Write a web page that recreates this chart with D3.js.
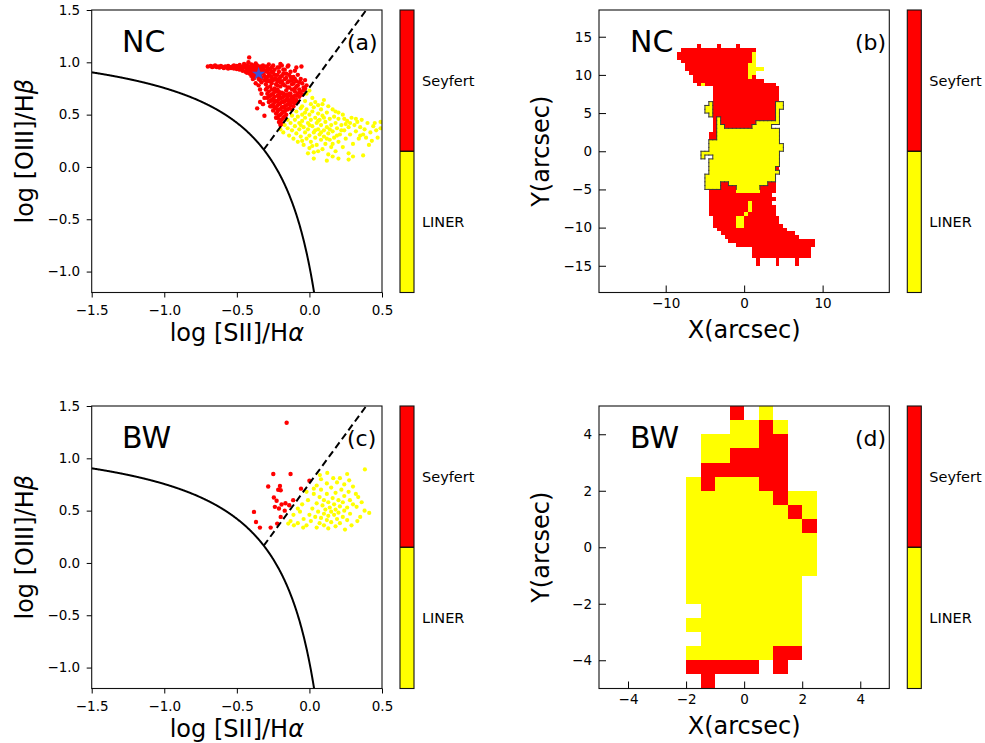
<!DOCTYPE html>
<html>
<head>
<meta charset="utf-8">
<script src="https://cdn.jsdelivr.net/npm/d3@7"></script>
<style>
  body { margin: 0; background: #fff; }
  svg { display: block; }
  text { font-family: "DejaVu Sans", sans-serif; fill: #000; }
</style>
</head>
<body>
<svg id="fig" width="985" height="743"></svg>
<script>
// ---------------- BPT diagnostic points: [log [SII]/Hα, log [OIII]/Hβ] ----------------
const ncSeyfert = [
  [-0.70,0.96],[-0.68,0.965],[-0.67,0.955],[-0.66,0.96],[-0.65,0.97],[-0.64,0.955],[-0.63,0.96],[-0.62,0.95],
  [-0.61,0.965],[-0.60,0.955],[-0.59,0.945],[-0.58,0.96],[-0.57,0.95],[-0.56,0.94],[-0.56,0.965],[-0.55,0.955],
  [-0.54,0.945],[-0.53,0.96],[-0.52,0.94],[-0.52,0.97],[-0.51,0.95],[-0.50,0.935],[-0.50,0.965],[-0.49,0.95],
  [-0.48,0.93],[-0.48,0.975],[-0.47,0.955],[-0.46,0.94],[-0.46,0.92],[-0.45,0.965],[-0.45,0.985],[-0.44,0.95],
  [-0.44,0.91],[-0.43,0.935],
  [-0.43,0.97],[-0.42,1.00],[-0.42,0.92],[-0.41,0.95],[-0.41,0.89],[-0.40,0.98],[-0.40,0.91],[-0.40,0.87],
  [-0.39,0.94],[-0.39,0.90],[-0.38,0.96],[-0.38,0.88],[-0.38,0.85],[-0.37,0.92],[-0.37,0.99],[-0.36,0.87],
  [-0.36,0.94],[-0.35,0.91],[-0.35,0.84],[-0.34,0.96],[-0.34,0.88],[-0.33,0.93],[-0.33,0.85],[-0.33,0.81],
  [-0.32,0.90],[-0.32,0.97],[-0.31,0.87],[-0.31,0.83],[-0.30,0.92],[-0.30,0.79],[-0.29,0.95],[-0.29,0.86],
  [-0.28,0.89],[-0.28,0.82],[-0.27,0.93],[-0.27,0.77],[-0.26,0.86],[-0.26,0.80],[-0.25,0.90],[-0.25,0.97],
  [-0.24,0.84],[-0.24,0.75],[-0.23,0.88],[-0.23,0.79],[-0.22,0.95],[-0.22,0.82],[-0.21,0.91],[-0.21,0.72],
  [-0.20,0.86],[-0.20,0.77],[-0.19,0.97],[-0.19,0.82],[-0.18,0.89],[-0.18,0.70],[-0.17,0.93],[-0.17,0.78],
  [-0.16,0.85],[-0.16,0.73],[-0.15,0.81],[-0.15,0.96],[-0.14,0.88],[-0.14,0.76],[-0.13,0.91],[-0.13,0.70],
  [-0.12,0.83],[-0.12,0.79],[-0.11,0.86],[-0.10,0.75],[-0.10,0.92],[-0.09,0.82],[-0.08,0.78],[-0.08,0.88],
  [-0.07,0.74],[-0.06,0.84],[-0.05,0.80],[-0.04,0.76],[-0.03,0.83],[-0.02,0.78],
  [-0.415,1.047],[-0.28,0.98],[-0.20,0.985],[-0.145,0.97],[-0.055,0.96],[-0.09,0.95],
  [-0.44,0.97],[-0.43,0.90],[-0.42,0.96],[-0.41,0.93],[-0.39,0.97],[-0.38,0.92],[-0.37,0.89],[-0.36,0.97],
  [-0.36,0.90],[-0.35,0.95],[-0.34,0.92],[-0.34,0.83],[-0.33,0.89],[-0.32,0.94],[-0.31,0.91],[-0.30,0.96],
  [-0.30,0.85],[-0.29,0.82],[-0.29,0.91],[-0.28,0.94],[-0.27,0.87],[-0.27,0.83],[-0.26,0.91],[-0.26,0.95],
  [-0.25,0.83],[-0.24,0.88],[-0.24,0.93],[-0.23,0.84],[-0.22,0.88],[-0.22,0.78],[-0.21,0.84],[-0.21,0.95],
  [-0.20,0.81],[-0.19,0.87],[-0.18,0.93],[-0.18,0.79],[-0.17,0.84],[-0.16,0.89],[-0.15,0.76],[-0.14,0.82],
  [-0.13,0.86],[-0.12,0.74],[-0.11,0.80],[-0.10,0.84],[-0.09,0.77],[-0.07,0.81],
  [-0.30,0.74],[-0.29,0.70],[-0.29,0.66],[-0.28,0.72],[-0.28,0.62],[-0.27,0.68],[-0.27,0.58],[-0.26,0.74],
  [-0.26,0.64],[-0.25,0.70],[-0.25,0.60],[-0.25,0.54],[-0.24,0.67],[-0.24,0.57],[-0.23,0.72],[-0.23,0.63],
  [-0.23,0.51],[-0.22,0.68],[-0.22,0.59],[-0.22,0.47],[-0.21,0.65],[-0.21,0.55],[-0.21,0.43],[-0.20,0.70],
  [-0.20,0.61],[-0.20,0.50],[-0.19,0.66],[-0.19,0.57],[-0.19,0.45],[-0.18,0.62],[-0.18,0.53],[-0.19,0.41],
  [-0.17,0.68],[-0.17,0.58],[-0.17,0.48],[-0.16,0.64],[-0.16,0.55],[-0.16,0.50],[-0.15,0.60],[-0.15,0.67],
  [-0.14,0.56],[-0.14,0.63],[-0.13,0.59],[-0.13,0.68],[-0.12,0.62],[-0.12,0.55],[-0.11,0.65],[-0.11,0.58],
  [-0.10,0.61],[-0.10,0.68],[-0.09,0.64],[-0.08,0.70],[-0.08,0.62],[-0.07,0.67],[-0.06,0.72],[-0.05,0.69],
  [-0.04,0.73],[-0.03,0.75],[-0.20,0.40],[-0.20,0.42],
  [-0.29,0.76],[-0.28,0.67],[-0.27,0.63],[-0.26,0.69],[-0.26,0.58],[-0.25,0.65],[-0.24,0.72],[-0.24,0.62],
  [-0.23,0.56],[-0.22,0.74],[-0.22,0.63],[-0.21,0.60],[-0.21,0.69],[-0.20,0.55],[-0.20,0.66],[-0.19,0.62],
  [-0.19,0.71],[-0.18,0.57],[-0.18,0.67],[-0.17,0.63],[-0.17,0.53],[-0.16,0.69],[-0.16,0.59],[-0.15,0.64],
  [-0.15,0.55],[-0.14,0.60],[-0.14,0.70],[-0.13,0.64],[-0.12,0.67],[-0.11,0.62],[-0.10,0.72],[-0.09,0.68],
  [-0.07,0.71],[-0.23,0.47],[-0.21,0.49],[-0.20,0.45],[-0.22,0.53],[-0.19,0.51],[-0.18,0.47],
  [-0.36,0.56],[-0.31,0.49],[-0.34,0.62],[-0.33,0.70],[-0.35,0.78],[-0.32,0.60],[-0.31,0.66],[-0.37,0.80],
  [-0.39,0.84],[-0.34,0.74]
];
const ncLiner = [
  [-0.02,0.70],[0.00,0.73],[0.02,0.66],[0.04,0.62],[0.01,0.60],[-0.03,0.63],[-0.05,0.58],[0.10,0.64],
  [0.13,0.58],[0.08,0.55],[0.06,0.59],[0.16,0.55],[0.20,0.52],
  [-0.20,0.36],[-0.18,0.33],[-0.17,0.40],[-0.15,0.45],[-0.15,0.37],[-0.14,0.30],[-0.13,0.42],[-0.12,0.49],
  [-0.12,0.35],[-0.11,0.27],[-0.10,0.45],[-0.10,0.39],[-0.09,0.53],[-0.09,0.32],[-0.08,0.48],[-0.08,0.24],
  [-0.07,0.42],[-0.07,0.36],[-0.06,0.56],[-0.06,0.29],[-0.05,0.50],[-0.05,0.44],[-0.04,0.38],[-0.04,0.21],
  [-0.03,0.47],[-0.03,0.33],[-0.02,0.55],[-0.02,0.27],[-0.01,0.42],[-0.01,0.36],[0.00,0.50],[0.00,0.30],
  [0.00,0.18],[0.01,0.45],[0.01,0.24],[0.02,0.39],[0.02,0.53],[0.03,0.33],[0.03,0.14],[0.04,0.47],
  [0.04,0.28],[0.05,0.42],[0.05,0.21],[0.06,0.36],[0.06,0.51],[0.07,0.31],[0.07,0.45],[0.08,0.26],
  [0.08,0.40],[0.09,0.17],[0.09,0.49],[0.10,0.35],[0.10,0.29],[0.11,0.43],[0.11,0.22],[0.12,0.38],
  [0.12,0.52],[0.13,0.32],[0.13,0.12],[0.14,0.46],[0.14,0.26],[0.15,0.40],[0.15,0.19],[0.16,0.34],
  [0.17,0.48],[0.17,0.28],[0.18,0.42],[0.18,0.15],[0.19,0.37],[0.20,0.46],[0.20,0.24],[0.21,0.31],
  [0.22,0.40],[0.23,0.19],[0.23,0.50],[0.24,0.35],[0.25,0.27],[0.26,0.44],[0.27,0.38],[0.27,0.13],
  [0.28,0.31],[0.29,0.47],[0.30,0.22],[0.31,0.40],[0.32,0.34],[0.33,0.43],[0.34,0.27],[0.35,0.38],
  [0.36,0.45],[0.37,0.31],[0.38,0.36],[0.40,0.42],[0.41,0.21],[0.42,0.33],[0.44,0.39],[0.45,0.42],
  [0.47,0.28],[0.49,0.43],[0.49,0.37],[0.37,0.11],[0.27,0.07],[0.03,0.08],[0.20,0.08],[0.12,0.06],
  [0.30,0.10],[0.16,0.10],
  [-0.05,0.25],[0.02,0.20],[0.06,0.15],[-0.01,0.13],[0.04,0.35],[0.08,0.33],[-0.06,0.40],[0.10,0.47],
  [0.12,0.27],[0.16,0.22],[0.19,0.30],[0.22,0.35],[0.25,0.41],[0.14,0.36],[0.06,0.44],[0.00,0.40],
  [-0.03,0.52],[0.03,0.57],[0.09,0.60],[0.18,0.53],[0.24,0.46],[0.28,0.42],[0.32,0.46],[0.35,0.30],
  [0.39,0.28],[0.43,0.25],[0.46,0.35]
];
const ncNucleus = [[-0.35, 0.89]];

const bwSeyfert = [
  [-0.157,1.34],[-0.249,0.85],[-0.130,0.85],[-0.284,0.73],[-0.203,0.735],[-0.198,0.695],[-0.215,0.70],
  [-0.058,0.71],[0.0,0.785],[-0.245,0.626],[-0.226,0.594],[-0.238,0.536],[-0.192,0.558],[-0.112,0.60],
  [-0.139,0.552],[-0.165,0.57],[-0.382,0.488],[-0.198,0.44],[-0.368,0.392],[-0.341,0.338],[-0.267,0.338],
  [-0.222,0.376],[-0.21,0.52],[-0.17,0.50]
];
const bwLiner = [
  [0.382,0.894],[0.123,0.86],[0.072,0.84],[0.164,0.81],[0.21,0.81],[0.274,0.79],[0.19,0.77],[0.24,0.75],
  [0.12,0.76],[0.05,0.74],[0.30,0.73],[0.15,0.72],[0.22,0.70],[0.08,0.70],[0.27,0.68],[0.18,0.67],
  [0.03,0.66],[0.12,0.66],[0.336,0.63],[0.24,0.64],[0.07,0.63],[0.16,0.62],[0.279,0.60],[0.20,0.60],
  [-0.01,0.60],[0.10,0.60],[0.13,0.58],[0.23,0.58],[0.05,0.57],[0.17,0.56],[0.30,0.56],[-0.05,0.56],
  [0.325,0.536],[0.09,0.55],[0.21,0.54],[0.14,0.53],[0.26,0.53],[0.02,0.52],[0.11,0.51],[0.18,0.51],
  [-0.08,0.52],[0.24,0.50],[0.06,0.49],[0.15,0.49],[-0.065,0.49],[0.20,0.48],[0.412,0.478],[0.10,0.47],
  [0.28,0.47],[0.00,0.46],[0.13,0.45],[0.17,0.46],[-0.11,0.46],[0.23,0.44],[0.04,0.44],[0.08,0.43],
  [0.35,0.44],[0.19,0.42],[-0.04,0.42],[0.12,0.41],[0.26,0.41],[-0.13,0.40],[0.01,0.40],[0.15,0.39],
  [0.07,0.38],[0.21,0.38],[-0.146,0.376],[-0.107,0.36],[0.10,0.36],[0.18,0.35],[-0.043,0.338],[0.05,0.338],
  [0.245,0.319],[0.13,0.33],[-0.02,0.36],[-0.08,0.38],[0.29,0.36],[0.33,0.40],[0.38,0.50],[0.36,0.58],
  [0.32,0.66],[0.26,0.85],[0.08,0.80],[0.03,0.71],[-0.02,0.68]
];

// ---------------- Spatial classification maps ----------------
// Each row: [top edge of the row in arcsec, [[x start, x end, class], ...]], 0.5" spaxels.
// S = Seyfert, L = LINER.
const ncMapRows = [
  [14,   [[-6,-5.5,"S"],[-3.5,-3,"S"],[-1,-0.5,"S"]]],
  [13.5, [[-8,1.5,"S"]]],
  [13,   [[-8.5,1,"S"],[1,1.5,"L"]]],
  [12.5, [[-8.5,1,"S"],[1,1.5,"L"]]],
  [12,   [[-8,1,"S"],[1,1.5,"L"]]],
  [11.5, [[-7.5,0.5,"S"],[0.5,1.5,"L"]]],
  [11,   [[-7.5,0.5,"S"],[0.5,2.5,"L"]]],
  [10.5, [[-7,0.5,"S"],[0.5,1.5,"L"]]],
  [10,   [[-6.5,0.5,"S"],[0.5,1,"L"],[1,1.5,"S"]]],
  [9.5,  [[-6.5,2.5,"S"]]],
  [9,    [[-6,-5.5,"S"],[-5.5,-5,"L"],[-5,4,"S"]]],
  [8.5,  [[-4,4.5,"S"]]],
  [8,    [[-4,4.5,"S"]]],
  [7.5,  [[-4,4.5,"S"]]],
  [7,    [[-4,4.5,"S"]]],
  [6.5,  [[-4.5,-4,"L"],[-4,4,"S"],[4,5,"L"]]],
  [6,    [[-5,-4,"L"],[-4,4,"S"],[4,5,"L"]]],
  [5.5,  [[-5,-4,"L"],[-4,4,"S"],[4,4.5,"L"]]],
  [5,    [[-4.5,-4,"L"],[-4,4,"S"],[4,4.5,"L"]]],
  [4.5,  [[-4,-3.5,"S"],[-3.5,-3,"L"],[-3,4,"S"],[4,4.5,"L"]]],
  [4,    [[-4,-3.5,"S"],[-3.5,-3,"L"],[-3,1.5,"S"],[1.5,4.5,"L"]]],
  [3.5,  [[-4,-3.5,"S"],[-3.5,-2.5,"L"],[-2.5,1,"S"],[1,3.5,"L"]]],
  [3,    [[-4,-3.5,"S"],[-3.5,4.5,"L"]]],
  [2.5,  [[-4.5,-3.5,"S"],[-3.5,4.5,"L"]]],
  [2,    [[-4.5,-3.5,"S"],[-3.5,4.5,"L"]]],
  [1.5,  [[-4.5,4.5,"L"]]],
  [1,    [[-4.5,5,"L"]]],
  [0.5,  [[-4.5,5,"L"]]],
  [0,    [[-5.5,4.5,"L"]]],
  [-0.5, [[-5.5,-5,"L"],[-4,4.5,"L"]]],
  [-1,   [[-4.5,4.5,"L"]]],
  [-1.5, [[-4.5,4.5,"L"]]],
  [-2,   [[-4.5,4,"L"],[4,4.5,"S"]]],
  [-2.5, [[-4.5,4.5,"L"]]],
  [-3,   [[-5,4,"L"]]],
  [-3.5, [[-5,4,"L"]]],
  [-4,   [[-5,-3,"L"],[-3,-2,"S"],[-2,3,"L"],[3,4,"S"]]],
  [-4.5, [[-5,-3,"L"],[-3,-1,"S"],[-1,2,"L"],[2,4,"S"]]],
  [-5,   [[-4.5,-1,"S"],[-1,2,"L"],[2,4,"S"]]],
  [-5.5, [[-4.5,3.5,"S"]]],
  [-6,   [[-4.5,4,"S"]]],
  [-6.5, [[-4.5,0.5,"S"],[0.5,1,"L"],[1,3.5,"S"]]],
  [-7,   [[-4.5,0.5,"S"],[0.5,1,"L"],[1,4,"S"]]],
  [-7.5, [[-4.5,0.5,"S"],[0.5,1,"L"],[1,4,"S"]]],
  [-8,   [[-4.5,0,"S"],[0,0.5,"L"],[0.5,4,"S"]]],
  [-8.5, [[-4,-1,"S"],[-1,0,"L"],[0,4.5,"S"]]],
  [-9,   [[-4,-1,"S"],[-1,0,"L"],[0,4.5,"S"]]],
  [-9.5, [[-4,-1,"S"],[-1,0,"L"],[0,5,"S"]]],
  [-10,  [[-3.5,5.5,"S"]]],
  [-10.5,[[-3,6.5,"S"]]],
  [-11,  [[-2.5,7,"S"]]],
  [-11.5,[[-2,9,"S"]]],
  [-12,  [[-1,9,"S"]]],
  [-12.5,[[1,8.5,"S"]]],
  [-13,  [[1,8.5,"S"]]],
  [-13.5,[[1,8.5,"S"]]],
  [-14,  [[1.5,2,"S"],[4,4.5,"S"],[6.5,7,"S"]]],
  [-14.5,[[1.5,2,"S"],[4,4.5,"S"],[6.5,7,"S"]]]
];
// rows (top edge, arcsec) whose LINER spaxels are enclosed by a contour
const ncContourRows = [-4.5, 6.5];

const bwMapRows = [
  [5,    [[-0.5,0,"S"],[0.5,1,"L"]]],
  [4.5,  [[-0.5,0.5,"L"],[0.5,1,"S"],[1,1.5,"L"]]],
  [4,    [[-1.5,0.5,"L"],[0.5,1.5,"S"]]],
  [3.5,  [[-1.5,-0.5,"L"],[-0.5,1.5,"S"]]],
  [3,    [[-1.5,1.5,"S"]]],
  [2.5,  [[-2,-1.5,"L"],[-1.5,-1,"S"],[-1,0.5,"L"],[0.5,1.5,"S"]]],
  [2,    [[-2,1,"L"],[1,1.5,"S"],[1.5,2.5,"L"]]],
  [1.5,  [[-2,1.5,"L"],[1.5,2,"S"],[2,2.5,"L"]]],
  [1,    [[-2,2,"L"],[2,2.5,"S"]]],
  [0.5,  [[-2,2.5,"L"]]],
  [0,    [[-2,2.5,"L"]]],
  [-0.5, [[-2,2.5,"L"]]],
  [-1,   [[-2,2,"L"]]],
  [-1.5, [[-2,2,"L"]]],
  [-2,   [[-1.5,2,"L"]]],
  [-2.5, [[-2,2,"L"]]],
  [-3,   [[-1.5,2,"L"]]],
  [-3.5, [[-2,1,"L"],[1,2,"S"]]],
  [-4,   [[-2,0.5,"S"],[1,1.5,"S"]]],
  [-4.5, [[-1.5,-1,"S"]]]
];

// ---------------- Axis ticks and labels ----------------
const bptXTicks = [-1.5, -1.0, -0.5, 0.0, 0.5];
const bptYTicks = [-1.0, -0.5, 0.0, 0.5, 1.0, 1.5];
const ncMapXTicks = [-10, 0, 10];
const ncMapYTicks = [-15, -10, -5, 0, 5, 10, 15];
const bwMapTicks = [-4, -2, 0, 2, 4];
const classLabels = ["Seyfert", "LINER"];
const classColor = { S: "#ff0000", L: "#ffff00" };
const regionNames = ["NC", "BW"];
const panelTags = ["(a)", "(b)", "(c)", "(d)"];

// ---------------- Layout ----------------
const svg = d3.select("#fig");
const rowTops = [10, 406];
const plotH = 282.5;
const bptX = [91.7, 382];
const mapX = [599, 889.3];
const cellSize = 0.5;
const tickFont = 13.5;
const labelFont = 24;

// Kewley et al. (2006) demarcations in the [SII] diagram
const kewleyMax = x => 0.72 / (x - 0.32) + 1.30;
const seyfertLiner = x => 1.89 * x + 0.76;

let clipId = 0;
function addClip(x, y, w, h) {
  const id = "clip" + (clipId++);
  svg.append("clipPath").attr("id", id).append("rect")
    .attr("x", x).attr("y", y).attr("width", w).attr("height", h);
  return "url(#" + id + ")";
}

function styleAxis(g) {
  g.select(".domain").remove();
  g.selectAll(".tick line").attr("stroke", "#000").attr("stroke-width", 1);
  g.selectAll(".tick text").attr("font-size", tickFont).attr("fill", "#000")
    .style("font-family", "'DejaVu Sans', sans-serif");
}

function frame(x0, x1, y0, y1) {
  svg.append("rect").attr("x", x0).attr("y", y0)
    .attr("width", x1 - x0).attr("height", y1 - y0)
    .attr("fill", "none").attr("stroke", "#111").attr("stroke-width", 1.1);
}

function colorbar(x0, top) {
  const w = 14, h = plotH;
  const g = svg.append("g");
  const yb = d3.scaleBand().domain(classLabels).range([top, top + h]);
  g.selectAll("rect.part").data(classLabels).join("rect")
    .attr("x", x0).attr("y", d => yb(d)).attr("width", w).attr("height", yb.bandwidth())
    .attr("fill", (d, i) => i === 0 ? classColor.S : classColor.L);
  g.append("line").attr("x1", x0).attr("x2", x0 + w)
    .attr("y1", yb(classLabels[1])).attr("y2", yb(classLabels[1]))
    .attr("stroke", "#000").attr("stroke-width", 1.3);
  g.append("rect").attr("x", x0).attr("y", top).attr("width", w).attr("height", h)
    .attr("fill", "none").attr("stroke", "#111").attr("stroke-width", 1.1);
  g.selectAll("text").data(classLabels).join("text")
    .attr("x", x0 + w + 8).attr("y", d => yb(d) + yb.bandwidth() / 2)
    .attr("dy", "0.36em").attr("font-size", 14.5).text(d => d);
}

function bptPanel(row, seyf, lin, nucleus) {
  const top = rowTops[row], bottom = top + plotH;
  const x = d3.scaleLinear().domain([-1.5, 0.5]).range(bptX);
  const y = d3.scaleLinear().domain([-1.2, 1.5]).range([bottom, top]);
  const clip = addClip(bptX[0], top, bptX[1] - bptX[0], plotH);
  const g = svg.append("g").attr("clip-path", clip);

  g.append("g").selectAll("circle").data(seyf).join("circle")
    .attr("cx", d => x(d[0])).attr("cy", d => y(d[1])).attr("r", 2.2)
    .attr("fill", classColor.S);
  g.append("g").selectAll("circle").data(lin).join("circle")
    .attr("cx", d => x(d[0])).attr("cy", d => y(d[1])).attr("r", 2.1)
    .attr("fill", classColor.L);

  // maximum starburst curve
  const curve = d3.range(-1.5, 0.0335, 0.002).map(v => [v, kewleyMax(v)]);
  const line = d3.line().x(d => x(d[0])).y(d => y(d[1]));
  g.append("path").attr("d", line(curve)).attr("fill", "none")
    .attr("stroke", "#000").attr("stroke-width", 2);

  // Seyfert / LINER division starts where it meets the curve
  let lo = -0.6, hi = 0.0;
  for (let k = 0; k < 60; k++) {
    const mid = (lo + hi) / 2;
    if (seyfertLiner(mid) - kewleyMax(mid) < 0) lo = mid; else hi = mid;
  }
  const xEnd = (1.5 - 0.76) / 1.89;
  g.append("path").attr("d", line([[lo, seyfertLiner(lo)], [xEnd, seyfertLiner(xEnd)]]))
    .attr("fill", "none").attr("stroke", "#000").attr("stroke-width", 2)
    .attr("stroke-dasharray", "7,4");

  if (nucleus) {
    g.append("g").selectAll("path").data(nucleus).join("path")
      .attr("d", d3.symbol(d3.symbolStar, 56)())
      .attr("transform", d => `translate(${x(d[0])},${y(d[1])})`)
      .attr("fill", "#3f51d4");
  }

  frame(bptX[0], bptX[1], top, bottom);
  svg.append("g").attr("transform", `translate(0,${bottom})`)
    .call(d3.axisBottom(x).tickValues(bptXTicks).tickFormat(d3.format(".1f"))
      .tickSizeInner(5).tickSizeOuter(0).tickPadding(7.5))
    .call(styleAxis);
  svg.append("g").attr("transform", `translate(${bptX[0]},0)`)
    .call(d3.axisLeft(y).tickValues(bptYTicks).tickFormat(d3.format(".1f"))
      .tickSizeInner(5).tickSizeOuter(0).tickPadding(6.5))
    .call(styleAxis);

  const xl = svg.append("text").attr("x", (bptX[0] + bptX[1]) / 2).attr("y", bottom + 48)
    .attr("text-anchor", "middle").attr("font-size", labelFont);
  xl.append("tspan").text("log [SII]/H");
  xl.append("tspan").attr("font-style", "italic").text("α");
  const yl = svg.append("text")
    .attr("transform", `translate(33,${top + plotH / 2}) rotate(-90)`)
    .attr("text-anchor", "middle").attr("font-size", labelFont);
  yl.append("tspan").text("log [OIII]/H");
  yl.append("tspan").attr("font-style", "italic").text("β");

  svg.append("text").attr("x", 122).attr("y", top + 41.7).attr("font-size", 30)
    .text(regionNames[row]);
  svg.append("text").attr("x", 347).attr("y", top + 40).attr("font-size", 22)
    .text(panelTags[row * 2]);

  colorbar(400, top);
}

function mapPanel(row, rows, dom, xTicks, yTicks, contour) {
  const top = rowTops[row], bottom = top + plotH;
  const x = d3.scaleLinear().domain(dom).range(mapX);
  const y = d3.scaleLinear().domain(dom).range([bottom, top]);
  const clip = addClip(mapX[0], top, mapX[1] - mapX[0], plotH);
  const g = svg.append("g").attr("clip-path", clip);

  const segs = [];
  rows.forEach(([yTop, list]) => list.forEach(([a, b, c]) => segs.push({ yTop, a, b, c })));
  g.append("g").attr("shape-rendering", "crispEdges")
    .selectAll("rect").data(segs).join("rect")
    .attr("x", d => x(d.a)).attr("width", d => x(d.b) - x(d.a))
    .attr("y", d => y(d.yTop)).attr("height", d => y(d.yTop - cellSize) - y(d.yTop))
    .attr("fill", d => classColor[d.c]);

  if (contour) {
    // outline the LINER spaxels of the selected rows
    const key = (cx, cy) => cx.toFixed(2) + "," + cy.toFixed(2);
    const liner = new Set();
    segs.forEach(s => {
      if (s.c !== "L") return;
      for (let v = s.a; v < s.b - 1e-6; v += cellSize) liner.add(key(v, s.yTop));
    });
    const inRange = yt => yt >= contour[0] - 1e-6 && yt <= contour[1] + 1e-6;
    let d = "";
    segs.forEach(s => {
      if (s.c !== "L" || !inRange(s.yTop)) return;
      for (let v = s.a; v < s.b - 1e-6; v += cellSize) {
        const L = x(v), R = x(v + cellSize), T = y(s.yTop), B = y(s.yTop - cellSize);
        if (!liner.has(key(v, s.yTop + cellSize))) d += `M${L},${T}H${R}`;
        if (!liner.has(key(v, s.yTop - cellSize))) d += `M${L},${B}H${R}`;
        if (!liner.has(key(v - cellSize, s.yTop))) d += `M${L},${T}V${B}`;
        if (!liner.has(key(v + cellSize, s.yTop))) d += `M${R},${T}V${B}`;
      }
    });
    g.append("path").attr("d", d).attr("fill", "none")
      .attr("stroke", "#3a3a3a").attr("stroke-width", 1).attr("stroke-linecap", "square");
  }

  frame(mapX[0], mapX[1], top, bottom);
  svg.append("g").attr("transform", `translate(0,${bottom})`)
    .call(d3.axisBottom(x).tickValues(xTicks).tickFormat(d3.format("d"))
      .tickSizeInner(-7).tickSizeOuter(0).tickPadding(5.5))
    .call(styleAxis);
  svg.append("g").attr("transform", `translate(${mapX[0]},0)`)
    .call(d3.axisLeft(y).tickValues(yTicks).tickFormat(d3.format("d"))
      .tickSizeInner(-7).tickSizeOuter(0).tickPadding(7))
    .call(styleAxis);

  svg.append("text").attr("x", (mapX[0] + mapX[1]) / 2).attr("y", bottom + 45)
    .attr("text-anchor", "middle").attr("font-size", labelFont).text("X(arcsec)");
  svg.append("text")
    .attr("transform", `translate(549,${top + plotH / 2}) rotate(-90)`)
    .attr("text-anchor", "middle").attr("font-size", labelFont).text("Y(arcsec)");

  svg.append("text").attr("x", 630).attr("y", top + 41.7).attr("font-size", 30)
    .text(regionNames[row]);
  svg.append("text").attr("x", 855).attr("y", top + 40).attr("font-size", 22)
    .text(panelTags[row * 2 + 1]);

  colorbar(907.3, top);
}

bptPanel(0, ncSeyfert, ncLiner, ncNucleus);
mapPanel(0, ncMapRows, [-18.5, 18.5], ncMapXTicks, ncMapYTicks, ncContourRows);
bptPanel(1, bwSeyfert, bwLiner, null);
mapPanel(1, bwMapRows, [-5, 5], bwMapTicks, bwMapTicks, null);
</script>
</body>
</html>
